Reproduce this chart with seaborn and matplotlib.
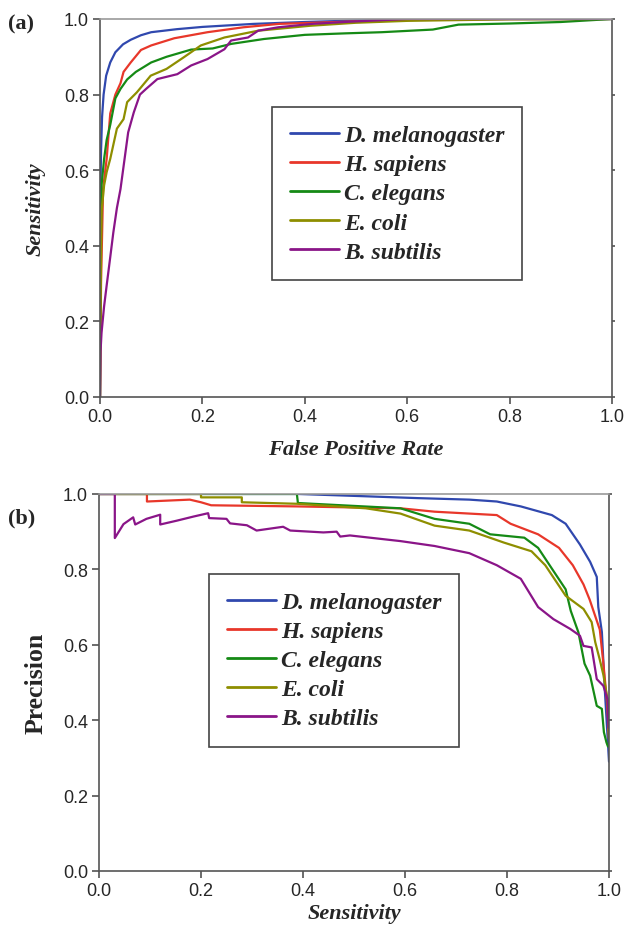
import numpy as np
import pandas as pd
import matplotlib
matplotlib.use('Agg')
import matplotlib.pyplot as plt
import seaborn as sns

# species names and colours
species = ['D. melanogaster', 'H. sapiens', 'C. elegans', 'E. coli', 'B. subtilis']
colors = ['#3048ae', '#e8372a', '#158a15', '#8e8e00', '#8a1588']

# (a) ROC curves: false positive rate vs sensitivity
roc_fpr_dm = [0, 0, 0.001, 0.002, 0.004, 0.007, 0.012, 0.02, 0.03, 0.045, 0.06, 0.08, 0.1, 0.15, 0.2, 0.3, 0.4, 0.5, 0.6, 0.8, 1.0]
roc_tpr_dm = [0, 0.40, 0.55, 0.65, 0.74, 0.80, 0.85, 0.885, 0.912, 0.933, 0.945, 0.957, 0.965, 0.973, 0.979, 0.987, 0.992, 0.996, 0.998, 1.0, 1.0]

roc_fpr_hs = [0, 0.002, 0.006, 0.013, 0.02, 0.03, 0.04, 0.046, 0.06, 0.08, 0.1, 0.145, 0.21, 0.28, 0.35, 0.44, 0.55, 0.7, 1.0]
roc_tpr_hs = [0, 0.30, 0.55, 0.63, 0.75, 0.80, 0.83, 0.86, 0.885, 0.918, 0.93, 0.949, 0.965, 0.978, 0.987, 0.991, 0.996, 1.0, 1.0]

roc_fpr_ce = [0, 0.001, 0.003, 0.008, 0.013, 0.02, 0.03, 0.04, 0.053, 0.07, 0.1, 0.13, 0.178, 0.22, 0.256, 0.32, 0.4, 0.48, 0.55, 0.65, 0.7, 0.8, 0.9, 0.95, 1.0]
roc_tpr_ce = [0, 0.35, 0.56, 0.63, 0.68, 0.72, 0.79, 0.815, 0.84, 0.86, 0.885, 0.90, 0.919, 0.922, 0.934, 0.947, 0.958, 0.962, 0.965, 0.972, 0.985, 0.988, 0.992, 0.996, 1.0]

roc_fpr_ec = [0, 0.001, 0.003, 0.008, 0.013, 0.02, 0.033, 0.046, 0.053, 0.072, 0.099, 0.13, 0.164, 0.197, 0.243, 0.309, 0.41, 0.5, 0.6, 0.8, 1.0]
roc_tpr_ec = [0, 0.25, 0.49, 0.56, 0.595, 0.63, 0.71, 0.735, 0.78, 0.806, 0.85, 0.868, 0.899, 0.93, 0.951, 0.969, 0.982, 0.99, 0.995, 0.999, 1.0]

roc_fpr_bs = [0, 0.001, 0.003, 0.008, 0.013, 0.02, 0.026, 0.033, 0.04, 0.046, 0.055, 0.066, 0.078, 0.09, 0.112, 0.151, 0.178, 0.21, 0.243, 0.256, 0.289, 0.309, 0.348, 0.414, 0.49, 0.6, 1.0]
roc_tpr_bs = [0, 0.12, 0.17, 0.24, 0.295, 0.37, 0.435, 0.50, 0.55, 0.61, 0.70, 0.753, 0.80, 0.815, 0.841, 0.854, 0.877, 0.894, 0.92, 0.943, 0.951, 0.969, 0.978, 0.987, 0.993, 1.0, 1.0]

# (b) precision vs sensitivity
pr_sens_dm = [0, 0.39, 0.52, 0.625, 0.726, 0.78, 0.827, 0.888, 0.915, 0.943, 0.963, 0.976, 0.979, 0.986, 0.992, 0.997, 1.0]
pr_prec_dm = [1, 1, 0.994, 0.989, 0.985, 0.98, 0.967, 0.944, 0.921, 0.866, 0.82, 0.78, 0.70, 0.634, 0.475, 0.36, 0.29]

pr_sens_hs = [0, 0.094, 0.094, 0.178, 0.2, 0.22, 0.388, 0.591, 0.658, 0.726, 0.78, 0.807, 0.861, 0.902, 0.929, 0.95, 0.962, 0.972, 0.982, 0.989, 0.996, 1.0]
pr_prec_hs = [1, 1, 0.98, 0.985, 0.978, 0.97, 0.967, 0.962, 0.953, 0.948, 0.944, 0.921, 0.893, 0.857, 0.811, 0.76, 0.72, 0.68, 0.64, 0.55, 0.45, 0.35]

pr_sens_ce = [0, 0.388, 0.39, 0.591, 0.658, 0.726, 0.767, 0.834, 0.861, 0.888, 0.915, 0.925, 0.94, 0.952, 0.963, 0.976, 0.986, 0.99, 0.995, 0.998]
pr_prec_ce = [1, 1, 0.976, 0.962, 0.934, 0.921, 0.893, 0.884, 0.857, 0.802, 0.747, 0.69, 0.633, 0.55, 0.518, 0.438, 0.43, 0.368, 0.341, 0.33]

pr_sens_ec = [0, 0.2, 0.2, 0.28, 0.28, 0.388, 0.523, 0.591, 0.658, 0.726, 0.794, 0.848, 0.875, 0.915, 0.935, 0.95, 0.966, 0.973, 0.982, 0.989, 0.997, 1.0]
pr_prec_ec = [1, 1, 0.991, 0.991, 0.978, 0.974, 0.962, 0.948, 0.916, 0.903, 0.871, 0.848, 0.811, 0.73, 0.71, 0.695, 0.66, 0.607, 0.56, 0.52, 0.456, 0.35]

pr_sens_bs = [0, 0.031, 0.031, 0.048, 0.067, 0.071, 0.093, 0.12, 0.12, 0.152, 0.185, 0.214, 0.216, 0.25, 0.257, 0.29, 0.309, 0.361, 0.375,
              0.44, 0.466, 0.473, 0.492, 0.591, 0.658, 0.726, 0.78, 0.827, 0.861, 0.891, 0.924, 0.943, 0.95, 0.966, 0.976, 0.989, 0.997, 0.999]
pr_prec_bs = [1, 1, 0.883, 0.92, 0.938, 0.919, 0.934, 0.945, 0.919, 0.929, 0.94, 0.949, 0.936, 0.934, 0.922, 0.917, 0.903, 0.913, 0.903,
              0.898, 0.9, 0.887, 0.89, 0.875, 0.862, 0.843, 0.811, 0.775, 0.70, 0.668, 0.642, 0.624, 0.597, 0.593, 0.509, 0.491, 0.456, 0.38]

roc_x = [roc_fpr_dm, roc_fpr_hs, roc_fpr_ce, roc_fpr_ec, roc_fpr_bs]
roc_y = [roc_tpr_dm, roc_tpr_hs, roc_tpr_ce, roc_tpr_ec, roc_tpr_bs]
pr_x = [pr_sens_dm, pr_sens_hs, pr_sens_ce, pr_sens_ec, pr_sens_bs]
pr_y = [pr_prec_dm, pr_prec_hs, pr_prec_ce, pr_prec_ec, pr_prec_bs]

ticks = [0.0, 0.2, 0.4, 0.6, 0.8, 1.0]
tick_labels = ['0.0', '0.2', '0.4', '0.6', '0.8', '1.0']

sns.set_style('ticks')
plt.rcParams['font.family'] = ['Liberation Sans', 'DejaVu Sans']

serif = ['Liberation Serif', 'DejaVu Serif']

fig = plt.figure(figsize=(6.27, 9.29), dpi=100)
ax1 = fig.add_axes([0.1595, 0.5716, 0.8166, 0.4069])
ax2 = fig.add_axes([0.1579, 0.0614, 0.8134, 0.4058])


def draw(ax, xs, ys):
    for name, col, x, y in zip(species, colors, xs, ys):
        df = pd.DataFrame({'x': x, 'y': y})
        sns.lineplot(data=df, x='x', y='y', ax=ax, color=col, lw=1.6,
                     sort=False, estimator=None, label=name)


def style(ax):
    ax.set_xlim(0, 1)
    ax.set_ylim(0, 1)
    ax.set_xticks(ticks)
    ax.set_yticks(ticks)
    ax.set_xticklabels(tick_labels)
    ax.set_yticklabels(tick_labels)
    ax.tick_params(labelsize=13, length=5, width=1.1, color='#444444', pad=3)
    ax.tick_params(axis='y', which='major', right=True)
    for t in ax.yaxis.get_major_ticks():
        t.tick2line.set_markersize(2.5)
    for sp in ax.spines.values():
        sp.set_visible(True)
        sp.set_color('#555555')
        sp.set_linewidth(1.2)
    ax.spines['top'].set_color('#999999')


draw(ax1, roc_x, roc_y)
draw(ax2, pr_x, pr_y)
style(ax1)
style(ax2)

ax1.set_xlabel('False Positive Rate', family=serif, fontsize=16, fontweight='bold', style='italic', labelpad=10)
ax1.set_ylabel('Sensitivity', family=serif, fontsize=16, fontweight='bold', style='italic', labelpad=13)
ax2.set_xlabel('Sensitivity', family=serif, fontsize=16, fontweight='bold', style='italic', labelpad=3)
ax2.set_ylabel('Precision', family=serif, fontsize=18.5, fontweight='bold', labelpad=11)

fig.text(0.012, 0.974, '(a)', family=serif, fontsize=16, fontweight='bold', va='center')
fig.text(0.012, 0.442, '(b)', family=serif, fontsize=16, fontweight='bold', va='center')

legend_font = {'family': serif, 'size': 17, 'weight': 'bold', 'style': 'italic'}
for ax, anchor in [(ax1, (0.336, 0.767)), (ax2, (0.216, 0.788))]:
    leg = ax.legend(loc='upper left', bbox_to_anchor=anchor, prop=legend_font,
                    handlelength=2.1, handletextpad=0.2, labelspacing=0.32,
                    borderpad=0.75, borderaxespad=0, fancybox=False, framealpha=1)
    leg.get_frame().set_edgecolor('#444444')
    leg.get_frame().set_linewidth(1.2)
    for line in leg.get_lines():
        line.set_linewidth(2.0)

fig.savefig('out.png', dpi=100)
